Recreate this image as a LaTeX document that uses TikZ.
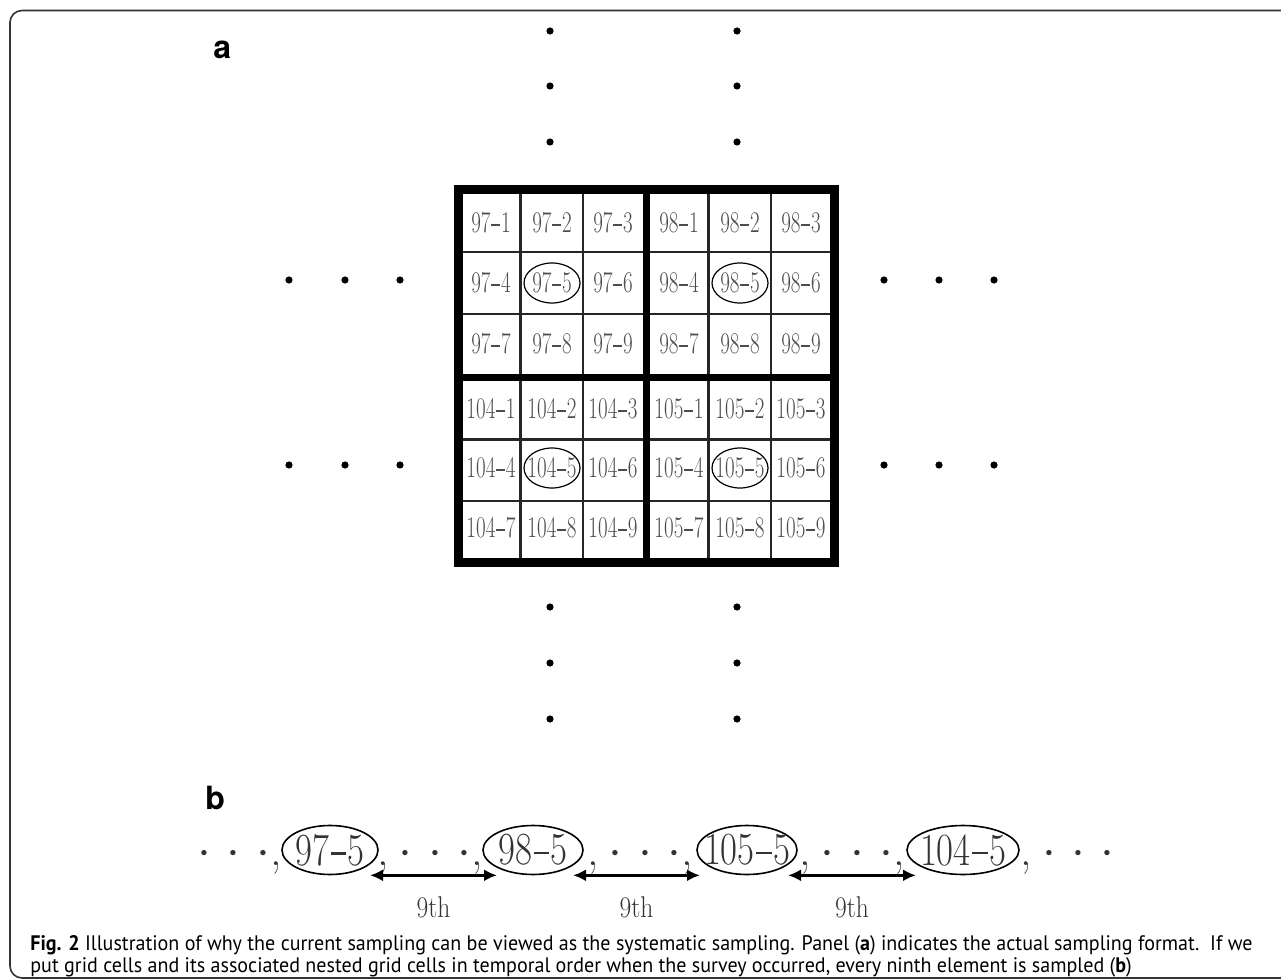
\documentclass[tikz,border=0pt]{standalone}
\usepackage{fontspec}
\usepackage{graphicx}
\newfontfamily\capfont{PT Sans}
\newfontfamily\panelfont{TeX Gyre Heros}
\usetikzlibrary{arrows.meta, shapes.geometric, positioning, calc}
\newcommand{\narrowtext}[2][0.7]{\scalebox{#1}[1]{#2}}
\newcommand{\cellbar}{\hspace{0.04em}\rule[0.23em]{0.42em}{0.055em}\hspace{0.04em}}

\begin{document}
\begin{tikzpicture}[
    x=0.5pt, y=-0.5pt,
    frame/.style={draw=black!80, line width=0.8pt, rounded corners=6pt},
    thinline/.style={line width=1.2pt, black!85},
    midline/.style={line width=3.5pt},
    outline/.style={line width=4.5pt},
    cell/.style={font=\fontsize{15}{15}\selectfont, text=black!70, inner sep=0pt},
    ring/.style={draw, line width=0.6pt},
    pick/.style={draw, ellipse, inner sep=0pt, minimum height=24.5pt, line width=0.8pt, font=\fontsize{23}{23}\selectfont, text=black!80},
    seq/.style={inner sep=0pt, anchor=base, font=\fontsize{23}{23}\selectfont, text=black!80},
    nine/.style={inner sep=0pt, font=\fontsize{15}{15}\selectfont, text=black!80},
    panel/.style={font=\panelfont\bfseries\fontsize{16}{16}\selectfont, inner sep=0pt, anchor=base west},
    caption/.style={font=\capfont\fontsize{10.5}{10.5}\selectfont, inner sep=0pt, anchor=base west},
    arrow/.style={{Latex[length=6.5pt,width=6pt]}-{Latex[length=6.5pt,width=6pt]}, line width=1.4pt}
]
\useasboundingbox (0,0) rectangle (1281,979);
\clip (0,0) rectangle (1281,979);
\fill[white] (0,0) rectangle (1281,979);
\draw[frame] (10,10.5) rectangle (1330,978);

\node[panel] (pa) at (213,59) {a};
\node[panel] (pb) at (205,809) {b};

% dots around the grid
\fill (550,31) circle[radius=1.8pt] (550,86) circle[radius=1.8pt] (550,142) circle[radius=1.8pt]
      (737,31) circle[radius=1.8pt] (737,86) circle[radius=1.8pt] (737,142) circle[radius=1.8pt];
\fill (550,607) circle[radius=1.8pt] (550,663) circle[radius=1.8pt] (550,719) circle[radius=1.8pt]
      (737,607) circle[radius=1.8pt] (737,663) circle[radius=1.8pt] (737,719) circle[radius=1.8pt];
\fill (289,280) circle[radius=1.8pt] (345,280) circle[radius=1.8pt] (400,280) circle[radius=1.8pt]
      (289,465) circle[radius=1.8pt] (345,465) circle[radius=1.8pt] (400,465) circle[radius=1.8pt];
\fill (884,280) circle[radius=1.8pt] (939,280) circle[radius=1.8pt] (994,280) circle[radius=1.8pt]
      (884,465) circle[radius=1.8pt] (939,465) circle[radius=1.8pt] (994,465) circle[radius=1.8pt];

% grid
\draw[thinline] (520.5,190) -- (520.5,562.5) (583,190) -- (583,562.5)
                (708.5,190) -- (708.5,562.5) (771,190) -- (771,562.5);
\draw[thinline] (458.5,252) -- (834,252) (458.5,314) -- (834,314)
                (458.5,439.5) -- (834,439.5) (458.5,501) -- (834,501);
\draw[midline] (646.5,190) -- (646.5,562.5) (458.5,377.5) -- (834,377.5);
\draw[outline] (458.5,190) rectangle (834,562.5);

\node[cell] (c97-1) at (491,223) {\narrowtext{97\cellbar1}};
\node[cell] (c97-2) at (552,223) {\narrowtext{97\cellbar2}};
\node[cell] (c97-3) at (613,223) {\narrowtext{97\cellbar3}};
\node[cell] (c98-1) at (679,223) {\narrowtext{98\cellbar1}};
\node[cell] (c98-2) at (740,223) {\narrowtext{98\cellbar2}};
\node[cell] (c98-3) at (801,223) {\narrowtext{98\cellbar3}};
\node[cell] (c97-4) at (491,283) {\narrowtext{97\cellbar4}};
\node[cell] (c97-5) at (552,283) {\narrowtext{97\cellbar5}};
\node[cell] (c97-6) at (613,283) {\narrowtext{97\cellbar6}};
\node[cell] (c98-4) at (679,283) {\narrowtext{98\cellbar4}};
\node[cell] (c98-5) at (740,283) {\narrowtext{98\cellbar5}};
\node[cell] (c98-6) at (801,283) {\narrowtext{98\cellbar6}};
\node[cell] (c97-7) at (491,344) {\narrowtext{97\cellbar7}};
\node[cell] (c97-8) at (552,344) {\narrowtext{97\cellbar8}};
\node[cell] (c97-9) at (613,344) {\narrowtext{97\cellbar9}};
\node[cell] (c98-7) at (679,344) {\narrowtext{98\cellbar7}};
\node[cell] (c98-8) at (740,344) {\narrowtext{98\cellbar8}};
\node[cell] (c98-9) at (801,344) {\narrowtext{98\cellbar9}};
\node[cell] (c104-1) at (491,409) {\narrowtext{104\cellbar1}};
\node[cell] (c104-2) at (552,409) {\narrowtext{104\cellbar2}};
\node[cell] (c104-3) at (613,409) {\narrowtext{104\cellbar3}};
\node[cell] (c105-1) at (679,409) {\narrowtext{105\cellbar1}};
\node[cell] (c105-2) at (740,409) {\narrowtext{105\cellbar2}};
\node[cell] (c105-3) at (801,409) {\narrowtext{105\cellbar3}};
\node[cell] (c104-4) at (491,468) {\narrowtext{104\cellbar4}};
\node[cell] (c104-5) at (552,468) {\narrowtext{104\cellbar5}};
\node[cell] (c104-6) at (613,468) {\narrowtext{104\cellbar6}};
\node[cell] (c105-4) at (679,468) {\narrowtext{105\cellbar4}};
\node[cell] (c105-5) at (740,468) {\narrowtext{105\cellbar5}};
\node[cell] (c105-6) at (801,468) {\narrowtext{105\cellbar6}};
\node[cell] (c104-7) at (491,528) {\narrowtext{104\cellbar7}};
\node[cell] (c104-8) at (552,528) {\narrowtext{104\cellbar8}};
\node[cell] (c104-9) at (613,528) {\narrowtext{104\cellbar9}};
\node[cell] (c105-7) at (679,528) {\narrowtext{105\cellbar7}};
\node[cell] (c105-8) at (740,528) {\narrowtext{105\cellbar8}};
\node[cell] (c105-9) at (801,528) {\narrowtext{105\cellbar9}};

\draw[ring] (c97-5) ellipse [x radius=14pt, y radius=10pt];
\draw[ring] (c98-5) ellipse [x radius=14pt, y radius=10pt];
\draw[ring] (c104-5) ellipse [x radius=14pt, y radius=10pt];
\draw[ring] (c105-5) ellipse [x radius=14pt, y radius=10pt];

% sampled sequence
\node[pick, minimum width=48pt] (s97) at (330,850) {\makebox[0pt]{\narrowtext[0.8]{97\cellbar5}}};
\node[pick, minimum width=50pt] (s98) at (533,850) {\makebox[0pt]{\narrowtext[0.8]{98\cellbar5}}};
\node[pick, minimum width=50pt] (s105) at (747,850) {\makebox[0pt]{\narrowtext[0.8]{105\cellbar5}}};
\node[pick, minimum width=56pt] (s104) at (963,850) {\makebox[0pt]{\narrowtext[0.8]{104\cellbar5}}};

\node[seq, anchor=base east] (g1) at (282,865) {$\cdot$\hspace{.34em}$\cdot$\hspace{.34em}$\cdot$,};
\node[seq] (g2) at (430,865) {,\hspace{.22em}$\cdot$\hspace{.34em}$\cdot$\hspace{.34em}$\cdot$,};
\node[seq] (g3) at (640,865) {,\hspace{.22em}$\cdot$\hspace{.34em}$\cdot$\hspace{.34em}$\cdot$,};
\node[seq] (g4) at (852,865) {,\hspace{.22em}$\cdot$\hspace{.34em}$\cdot$\hspace{.34em}$\cdot$,};
\node[seq, anchor=base west] (g5) at (1020,865) {,\hspace{.22em}$\cdot$\hspace{.34em}$\cdot$\hspace{.34em}$\cdot$};

\draw[arrow] ($(s97.south)+(40,0)$) -- ($(s98.south)+(-36,0)$) node[nine, midway, below=10pt] {\narrowtext[0.85]{9th}};
\draw[arrow] ($(s98.south)+(40,0)$) -- ($(s105.south)+(-47,0)$) node[nine, midway, below=10pt] {\narrowtext[0.85]{9th}};
\draw[arrow] ($(s105.south)+(41,0)$) -- ($(s104.south)+(-47,0)$) node[nine, midway, below=10pt] {\narrowtext[0.85]{9th}};

\node[caption] (cap1) at (30,950) {\narrowtext[0.955]{\textbf{Fig. 2} Illustration of why the current sampling can be viewed as the systematic sampling. Panel (\textbf{a}) indicates the actual sampling format.\ \ If we}};
\node[caption] (cap2) at (30,972) {\narrowtext[0.955]{put grid cells and its associated nested grid cells in temporal order when the survey occurred, every ninth element is sampled (\textbf{b})}};

\end{tikzpicture}
\end{document}
